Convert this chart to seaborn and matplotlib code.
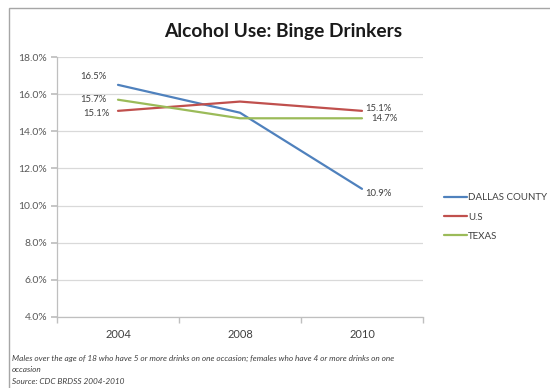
import matplotlib
matplotlib.use("Agg")
import matplotlib.pyplot as plt
import seaborn as sns
import pandas as pd
from matplotlib.patches import Rectangle
from matplotlib.ticker import FixedLocator

years = ["2004", "2008", "2010"]
dallas = [16.5, 15.0, 10.9]
us = [15.1, 15.6, 15.1]
texas = [15.7, 14.7, 14.7]
series_names = ["DALLAS COUNTY", "U.S", "TEXAS"]
colors = ["#4F81BD", "#C0504D", "#9BBB59"]
yticks = [4, 6, 8, 10, 12, 14, 16, 18]

rows = []
for name, vals in zip(series_names, [dallas, us, texas]):
    for y, v in zip(years, vals):
        rows.append({"Year": y, "Value": v, "Series": name})
df = pd.DataFrame(rows)

sns.set_theme(style="white")
plt.rcParams["font.family"] = ["Lato", "DejaVu Sans"]

fig = plt.figure(figsize=(5.5, 3.88), dpi=100)
fig.patch.set_facecolor("white")
ax = fig.add_axes([57/550, 1-317/388, (423-57)/550, (317-57)/388])

sns.lineplot(data=df, x="Year", y="Value", hue="Series", palette=colors,
             hue_order=series_names, linewidth=1.6, ax=ax, sort=False,
             legend=True)

ax.set_xlim(-0.5, 2.5)
ax.set_ylim(4, 18)
ax.set_yticks(yticks)
ax.set_yticklabels([f"{t:.1f}%" for t in yticks])
ax.yaxis.grid(True, color="#D9D9D9", linewidth=0.9)
ax.xaxis.grid(False)
ax.set_xlabel("")
ax.set_ylabel("")
for s in ["top", "right"]:
    ax.spines[s].set_visible(False)
for s in ["left", "bottom"]:
    ax.spines[s].set_color("#BFBFBF")
    ax.spines[s].set_linewidth(0.9)
ax.tick_params(axis="y", length=4, color="#BFBFBF", labelsize=7.5, labelcolor="#595959", pad=3, left=True)
ax.tick_params(axis="x", length=0, labelsize=8, labelcolor="#404040", pad=9)
ax.xaxis.set_minor_locator(FixedLocator([-0.5, 0.5, 1.5, 2.5]))
ax.tick_params(axis="x", which="minor", length=4, color="#BFBFBF", bottom=True)

# data labels
lab_kw = dict(textcoords="offset points", fontsize=6.8, color="#404040", va="center")
ax.annotate(f"{dallas[0]:.1f}%", (0, dallas[0]), xytext=(-8.6, 5.8), ha="right", **lab_kw)
ax.annotate(f"{texas[0]:.1f}%", (0, texas[0]), xytext=(-8, 0), ha="right", **lab_kw)
ax.annotate(f"{us[0]:.1f}%", (0, us[0]), xytext=(-6, -2), ha="right", **lab_kw)
ax.annotate(f"{us[2]:.1f}%", (2, us[2]), xytext=(2, 1.5), ha="left", **lab_kw)
ax.annotate(f"{texas[2]:.1f}%", (2, texas[2]), xytext=(7, 0), ha="left", **lab_kw)
ax.annotate(f"{dallas[2]:.1f}%", (2, dallas[2]), xytext=(2, -3), ha="left", **lab_kw)

# legend
handles, labels = ax.get_legend_handles_labels()
ax.legend(handles, labels, loc="center left", bbox_to_anchor=(435/550, 1-217/388),
          bbox_transform=fig.transFigure, frameon=False, fontsize=7.0,
          handlelength=2.4, handletextpad=0.1, labelspacing=1.05,
          labelcolor="#404040")

# title
fig.text(283/550, 1-31/388, "Alcohol Use: Binge Drinkers", ha="center", va="center",
         fontsize=13.8, fontweight="bold", color="#1a1a1a")

# footnotes
fn_kw = dict(ha="left", va="center", fontsize=5.95, style="italic", color="#404040")
fig.text(12/550, 1-358/388, "Males over the age of 18 who have 5 or more drinks on one occasion; females who have 4 or more drinks on one", **fn_kw)
fig.text(12/550, 1-370/388, "occasion", **fn_kw)
fig.text(12/550, 1-382/388, "Source: CDC BRDSS 2004-2010", **fn_kw)

# frame
fig.patches.append(Rectangle((9/550, -0.1), 1.2, 1-8/388+0.1, transform=fig.transFigure,
                             fill=False, edgecolor="#A6A6A6", linewidth=1.0))

fig.savefig("out.png", dpi=100, facecolor="white")
